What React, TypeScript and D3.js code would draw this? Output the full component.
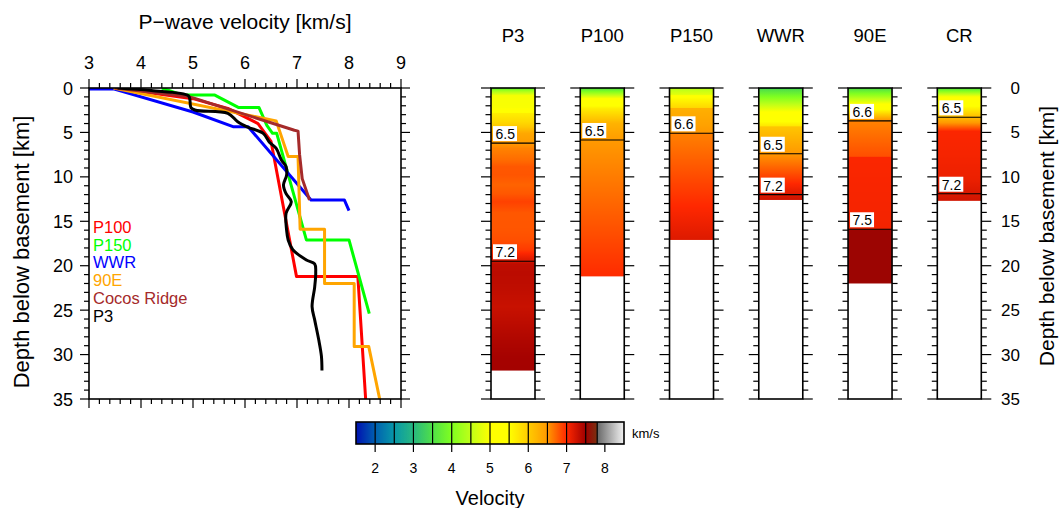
import React from 'react';
import * as d3 from 'd3';

// ---------- DATA ----------
const velTicks = [3, 4, 5, 6, 7, 8, 9];
const depthTicks = [0, 5, 10, 15, 20, 25, 30, 35];
const cbTicks = [2, 3, 4, 5, 6, 7, 8];

// profiles: [velocity km/s, depth km]
const p100: number[][] = [[3.5, 0], [5.0, 1.2], [5.67, 2.3], [6.25, 4.0], [6.5, 6.0], [6.99, 21.2], [8.17, 21.2], [8.32, 35]];
const p150: number[][] = [[4.4, 0], [4.8, 0.8], [5.42, 0.8], [5.88, 2.2], [6.27, 2.2], [6.42, 4.2], [6.53, 5.1], [6.61, 5.1], [7.18, 17.1], [8.0, 17.1], [8.39, 25.4]];
const wwr: number[][] = [[3.0, 0.1], [3.47, 0.1], [5.0, 2.7], [5.77, 4.35], [6.06, 4.35], [7.27, 12.6], [7.91, 12.6], [8.0, 13.8]];
const e90: number[][] = [[3.47, 0], [6.6, 3.7], [6.83, 7.7], [7.02, 7.7], [7.06, 15.9], [7.53, 15.9], [7.53, 22.0], [8.1, 22.0], [8.1, 29.1], [8.38, 29.1], [8.59, 35]];
const cocos: number[][] = [[3.5, 0], [4.9, 0.95], [5.05, 1.2], [6.95, 4.76], [7.02, 4.85], [7.05, 7.5], [7.1, 10.2], [7.24, 12.6]];
const p3: number[][] = [[3.55, 0], [4.2, 0.28], [4.91, 0.85], [4.94, 1.3], [4.96, 2.2], [5.05, 2.5], [5.67, 2.85], [5.86, 3.8], [6.05, 4.4], [6.35, 5.1], [6.47, 6.1], [6.6, 6.8], [6.7, 8.1], [6.79, 8.85], [6.8, 9.8], [6.74, 10.9], [6.79, 11.9], [6.89, 12.8], [6.79, 14.1], [6.8, 16.0], [6.83, 17.1], [6.92, 18.2], [7.18, 19.35], [7.34, 19.8], [7.36, 20.8], [7.34, 22.4], [7.29, 24.6], [7.34, 26.1], [7.42, 28.4], [7.47, 30.2], [7.48, 31.8]];

const seriesNames = ['P100', 'P150', 'WWR', '90E', 'Cocos Ridge', 'P3'];
const seriesColors = ['#ff0000', '#00ff00', '#0000ff', '#ffa500', '#a52a2a', '#000000'];
const seriesData = [p100, p150, wwr, e90, cocos, p3];

// columns
const colNames = ['P3', 'P100', 'P150', 'WWR', '90E', 'CR'];
const colProfiles = [p3, p100, p150, wwr, e90, cocos];
const colBottoms = [31.8, 21.2, 17.1, 12.6, 22.0, 12.7];
const colContourDepths = [[6.2, 19.5], [5.85], [5.1], [7.4, 12.0], [3.7, 15.9], [3.3, 11.9]];
const colContourLabels = [['6.5', '7.2'], ['6.5'], ['6.6'], ['6.5', '7.2'], ['6.6', '7.5'], ['6.5', '7.2']];

// colormap
const cmapV = [1.5, 2.0, 2.5, 3.0, 3.5, 4.0, 4.5, 5.0, 5.5, 6.0, 6.5, 7.0, 7.5, 7.79, 7.8, 8.0, 8.5];
const cmapC = ['#0010b0', '#0060b0', '#0898a8', '#28b880', '#50e048', '#80ff20', '#c0ff18', '#ffff00', '#ffff00', '#ffcc00', '#ff9900', '#ff2800', '#a00000', '#7a3010', '#686868', '#909090', '#f2f2f2'];
const cbEdges = [1.5, 2.0, 2.5, 3.0, 3.5, 4.0, 4.5, 5.0, 5.5, 6.0, 6.5, 7.0, 7.5, 7.8, 8.5];

// ---------- helpers ----------
const FONT = 'Liberation Sans, Arial, Helvetica, sans-serif';

function velAt(prof: number[][], d: number): number {
  for (let i = 0; i < prof.length - 1; i++) {
    const [v0, d0] = prof[i];
    const [v1, d1] = prof[i + 1];
    if (d1 > d0 && d >= d0 && d <= d1) return v0 + ((v1 - v0) * (d - d0)) / (d1 - d0);
  }
  if (d < prof[0][1]) return prof[0][0];
  return prof[prof.length - 1][0];
}

export default function App() {
  const x = d3.scaleLinear().domain([3, 9]).range([89, 401]);
  const y = d3.scaleLinear().domain([0, 35]).range([88, 399]);
  const cmap = d3.scaleLinear<string>().domain(cmapV).range(cmapC).interpolate(d3.interpolateRgb).clamp(true);
  const colX = d3.scalePoint<string>().domain(colNames).range([513, 959.3]);
  const colW = 44;
  const cb = d3.scaleLinear().domain([1.5, 8.5]).range([356, 624]);
  const cbY0 = 422, cbY1 = 444;

  const line = d3.line<number[]>().x((p) => x(p[0])).y((p) => y(p[1]));
  const curvy = d3.line<number[]>().x((p) => x(p[0])).y((p) => y(p[1])).curve(d3.curveCatmullRom.alpha(0.5));

  const minorV = d3.range(3, 9.001, 0.2);
  const minorD = d3.range(0, 35.001, 1);

  const els: React.ReactNode[] = [];
  minorV.forEach((v, i) => {
    const major = velTicks.some((t) => Math.abs(t - v) < 1e-6);
    const L = major ? 9 : 5;
    els.push(<line key={'tt' + i} x1={x(v)} x2={x(v)} y1={88} y2={88 - L} stroke="#000" strokeWidth={1.2} />);
    els.push(<line key={'tb' + i} x1={x(v)} x2={x(v)} y1={399} y2={399 + L} stroke="#000" strokeWidth={1.2} />);
  });
  minorD.forEach((d, i) => {
    const major = d % 5 === 0;
    const L = major ? 9 : 5;
    els.push(<line key={'tl' + i} x1={89} x2={89 - L} y1={y(d)} y2={y(d)} stroke="#000" strokeWidth={1.2} />);
    els.push(<line key={'tr' + i} x1={401} x2={401 + L} y1={y(d)} y2={y(d)} stroke="#000" strokeWidth={1.2} />);
  });

  // gradients
  const colGrads = colNames.map((name, ci) => {
    const bottom = colBottoms[ci];
    const step = 0.05;
    const ds = d3.range(0, bottom + 1e-9, step);
    return (
      <linearGradient key={'g' + ci} id={'colgrad' + ci} gradientUnits="userSpaceOnUse" x1={0} x2={0} y1={y(0)} y2={y(bottom)}>
        {ds.map((d, k) => (
          <stop key={k} offset={Math.min(1, d / bottom)} stopColor={cmap(velAt(colProfiles[ci], Math.max(0.03, Math.min(d, bottom - 0.01))))} />
        ))}
      </linearGradient>
    );
  });
  const cbStops = d3.range(1.5, 8.5001, 0.02);

  return (
    <svg width={1061} height={508} style={{ position: 'absolute', left: 0, top: 0, background: '#fff' }} fontFamily={FONT}>
      <rect x={0} y={0} width={1061} height={508} fill="#fff" />
      <defs>
        <clipPath id="plotclip">
          <rect x={89} y={88} width={312} height={311} />
        </clipPath>
        {colGrads}
        <linearGradient id="cbgrad" gradientUnits="userSpaceOnUse" x1={cb(1.5)} x2={cb(8.5)} y1={0} y2={0}>
          {cbStops.map((v, k) => (
            <stop key={k} offset={(v - 1.5) / 7} stopColor={cmap(v)} />
          ))}
        </linearGradient>
      </defs>
      {/* left plot */}
      <text x={245} y={29} fontSize={21} textAnchor="middle">P−wave velocity [km/s]</text>
      {velTicks.map((t) => (
        <text key={'vl' + t} x={x(t)} y={69} fontSize={18} textAnchor="middle">{t}</text>
      ))}
      {depthTicks.map((t) => (
        <text key={'dl' + t} x={73} y={y(t) + 6.5} fontSize={18} textAnchor="end">{t}</text>
      ))}
      <text transform={`translate(29,${252}) rotate(-90)`} fontSize={22} textAnchor="middle">Depth below basement [km]</text>
      {els}
      <g clipPath="url(#plotclip)">
        {seriesData.map((s, i) => (
          <path key={'s' + i} d={(seriesNames[i] === 'P3' ? curvy(s) : line(s)) || ''} fill="none" stroke={seriesColors[i]} strokeWidth={3} strokeLinejoin="round" />
        ))}
      </g>
      <rect x={89} y={88} width={312} height={311} fill="none" stroke="#000" strokeWidth={1.6} />
      {seriesNames.map((n, i) => (
        <text key={'lg' + i} x={93} y={233 + i * 17.7} fontSize={16.5} fill={seriesColors[i]}>{n}</text>
      ))}

      {/* columns */}
      {colNames.map((name, ci) => {
        const cx = colX(name)!;
        const left = cx - colW / 2;
        const ticks: React.ReactNode[] = [];
        minorD.forEach((d, k) => {
          const major = d % 5 === 0;
          const L = major ? 10 : 5.5;
          ticks.push(<line key={'a' + k} x1={left} x2={left - L} y1={y(d)} y2={y(d)} stroke="#000" strokeWidth={1.2} />);
          ticks.push(<line key={'b' + k} x1={left + colW} x2={left + colW + L} y1={y(d)} y2={y(d)} stroke="#000" strokeWidth={1.2} />);
        });
        return (
          <g key={'col' + ci}>
            <text x={cx} y={42} fontSize={18.5} textAnchor="middle">{name}</text>
            <rect x={left} y={y(0)} width={colW} height={y(colBottoms[ci]) - y(0)} fill={`url(#colgrad${ci})`} />
            {colContourDepths[ci].map((d, k) => (
              <g key={'c' + k}>
                <line x1={left} x2={left + colW} y1={y(d)} y2={y(d)} stroke="#000" strokeWidth={1.1} />
                <rect x={left + 2} y={y(d) - 17} width={24} height={15} fill="#fff" />
                <text x={left + 4.5} y={y(d) - 4} fontSize={14}>{colContourLabels[ci][k]}</text>
              </g>
            ))}
            {ticks}
            <rect x={left} y={88} width={colW} height={311} fill="none" stroke="#000" strokeWidth={1.6} />
          </g>
        );
      })}
      {depthTicks.map((t) => (
        <text key={'rl' + t} x={1020} y={y(t) + 6} fontSize={17} textAnchor="end">{t}</text>
      ))}
      <text transform={`translate(1054,${236}) rotate(-90)`} fontSize={21} textAnchor="middle">Depth below basement [km]</text>

      {/* colorbar */}
      <rect x={356} y={cbY0} width={268} height={cbY1 - cbY0} fill="url(#cbgrad)" />
      {cbEdges.slice(1, -1).map((e) => (
        <line key={'ce' + e} x1={cb(e)} x2={cb(e)} y1={cbY0} y2={cbY1} stroke="#000" strokeWidth={1.2} />
      ))}
      <rect x={356} y={cbY0} width={268} height={cbY1 - cbY0} fill="none" stroke="#000" strokeWidth={1.6} />
      {cbTicks.map((t) => (
        <g key={'cbt' + t}>
          <line x1={cb(t)} x2={cb(t)} y1={cbY1} y2={cbY1 + 8} stroke="#000" strokeWidth={1.2} />
          <text x={cb(t)} y={473} fontSize={14} textAnchor="middle">{t}</text>
        </g>
      ))}
      <text x={632} y={438} fontSize={13}>km/s</text>
      <text x={490} y={505} fontSize={20} textAnchor="middle">Velocity</text>
    </svg>
  );
}
